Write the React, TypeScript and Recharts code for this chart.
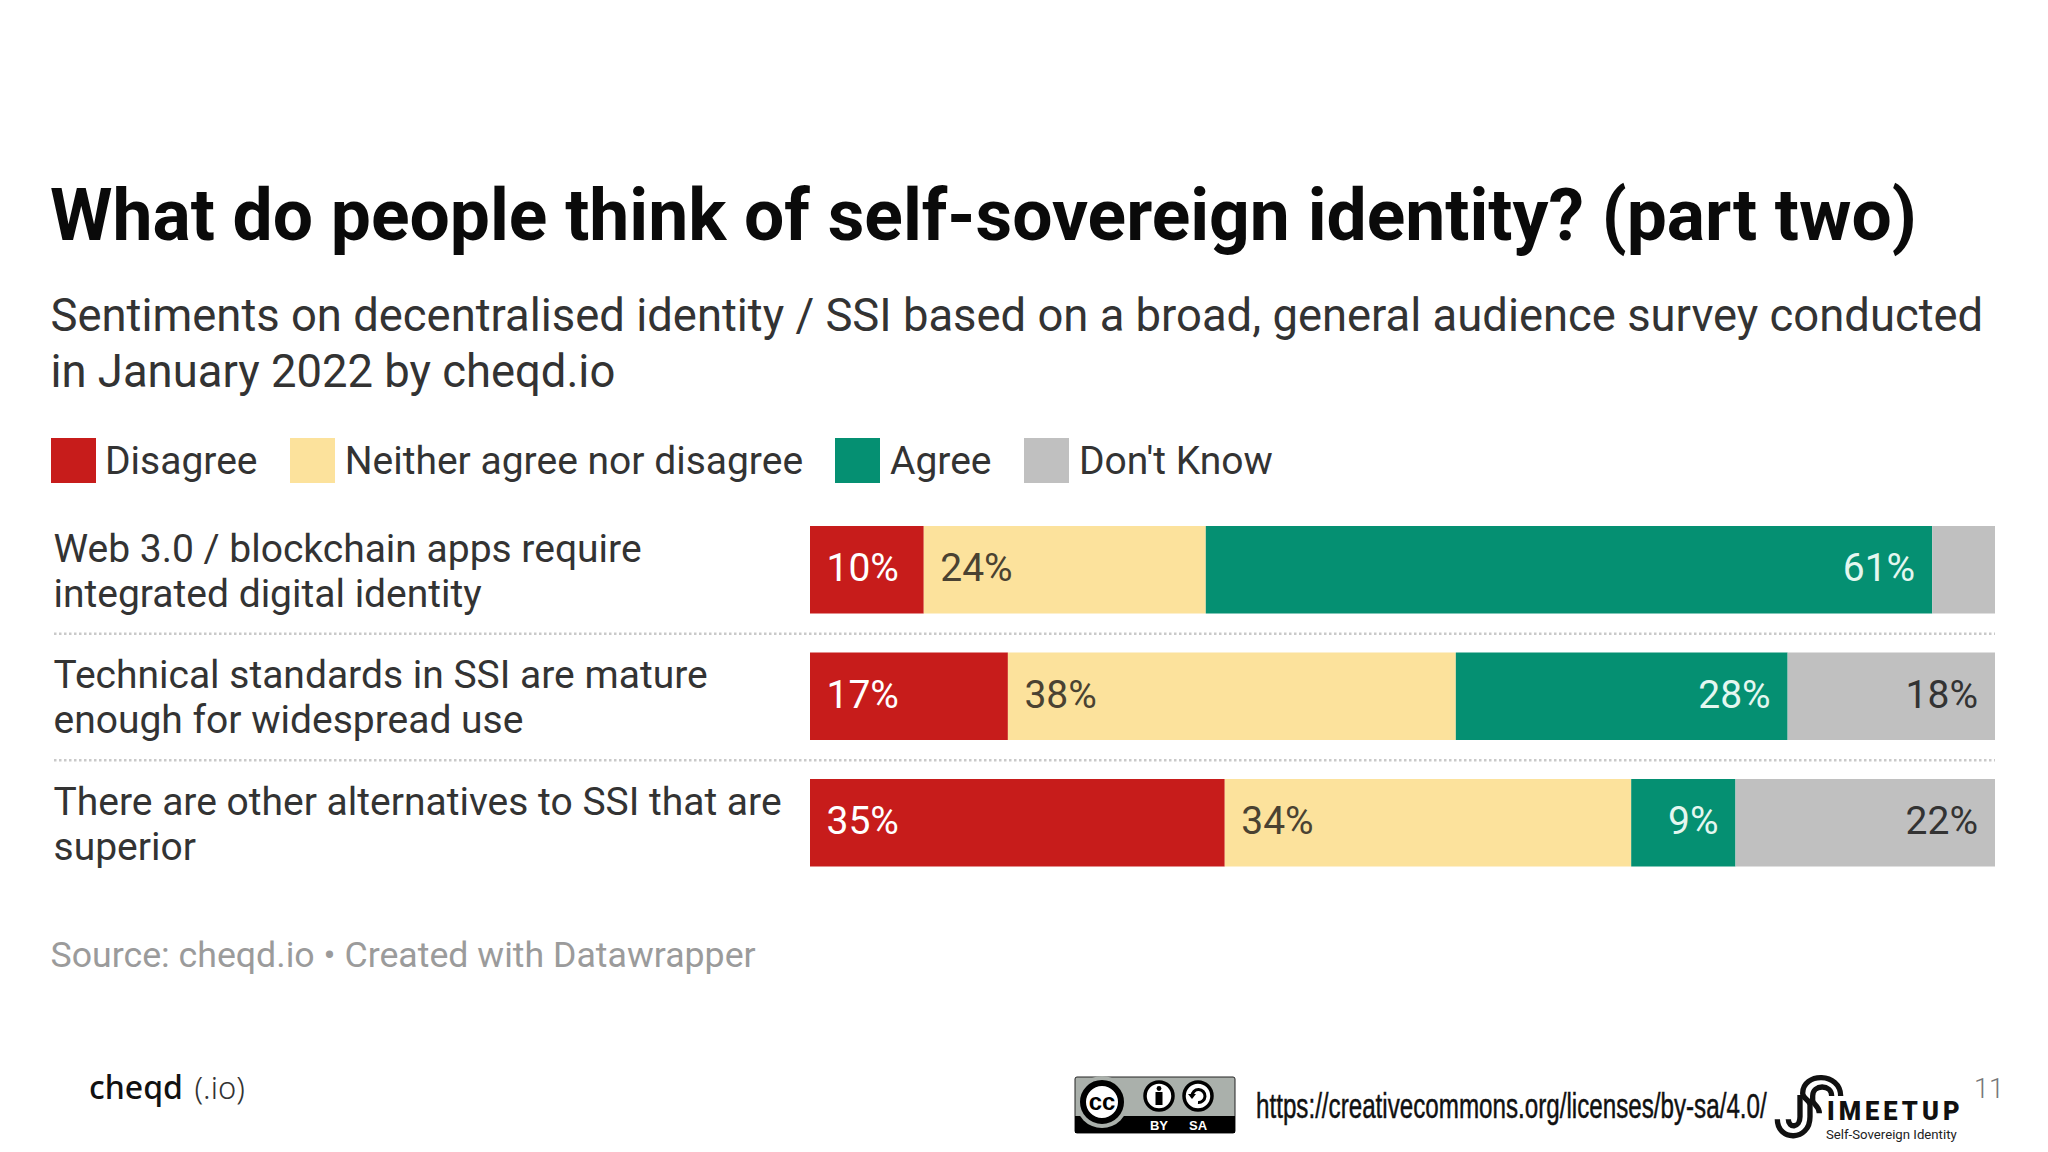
import React from "react";
import { BarChart, Bar, XAxis, YAxis, Legend, LabelList } from "recharts";

const titleText = "What do people think of self-sovereign identity? (part two)";
const subtitleLines = [
  "Sentiments on decentralised identity / SSI based on a broad, general audience survey conducted",
  "in January 2022 by cheqd.io",
];
const sourceText = "Source: cheqd.io • Created with Datawrapper";
const licenseUrl = "https://creativecommons.org/licenses/by-sa/4.0/";
const pageNumber = "11";

const categories = [
  "Web 3.0 / blockchain apps require\nintegrated digital identity",
  "Technical standards in SSI are mature\nenough for widespread use",
  "There are other alternatives to SSI that are\nsuperior",
];
const disagree = [9.6, 16.7, 35.0];
const neither = [23.8, 37.8, 34.3];
const agree = [61.3, 28.0, 8.8];
const dontKnow = [5.3, 17.5, 21.9];

const rows = categories.map((category, i) => ({
  category,
  disagree: disagree[i],
  neither: neither[i],
  agree: agree[i],
  dontKnow: dontKnow[i],
}));

const FONT = "Roboto, sans-serif";
const TEXT = "#333333";

const pct = (v: number) => (v < 6 ? "" : `${Math.round(v)}%`);

function RowTick(props: any) {
  const { y, payload, index } = props;
  const lines = String(payload.value).split("\n");
  return (
    <g>
      <text x={53.5} y={y - 7.5} fontFamily={FONT} fontSize={39} fill={TEXT}>
        {lines.map((line: string, i: number) => (
          <tspan key={i} x={53.5} dy={i === 0 ? 0 : 45}>
            {line}
          </tspan>
        ))}
      </text>
      {index < categories.length - 1 && (
        <line
          x1={54}
          x2={1995}
          y1={y + 64.5}
          y2={y + 64.5}
          stroke="#c9c9c9"
          strokeWidth={2.5}
          strokeDasharray="2.5 2.5"
        />
      )}
    </g>
  );
}

function LegendContent({ payload }: any) {
  const itemWidths = [239.7, 545.3, 189, 260];
  return (
    <div style={{ display: "flex", alignItems: "center", fontFamily: FONT, fontSize: 39, color: TEXT, height: 45 }}>
      {(payload || []).map((entry: any, i: number) => (
        <div key={i} style={{ display: "flex", alignItems: "center", width: itemWidths[i] }}>
          <span style={{ display: "inline-block", width: 45, height: 45, background: entry.color, marginRight: 9.5, flex: "none" }} />
          <span style={{ whiteSpace: "nowrap" }}>{entry.value}</span>
        </div>
      ))}
    </div>
  );
}

function Overlay() {
  const s = 1 / 3;
  return (
    <svg
      width={2048}
      height={1152}
      style={{ position: "absolute", left: 0, top: 0, pointerEvents: "none" }}
    >
      <text x={50} y={240} fontFamily={FONT} fontWeight={700} fontSize={71.4} fill="#0a0a0a">
        {titleText}
      </text>
      {subtitleLines.map((line, i) => (
        <text key={i} x={50.5} y={331 + i * 56} fontFamily={FONT} fontSize={45.4} fill={TEXT}>
          {line}
        </text>
      ))}
      <text x={50.5} y={967} fontFamily={FONT} fontSize={35.7} fill="#9b9b9b">
        {sourceText}
      </text>
      <text x={89} y={1099} fontFamily="'Noto Sans', sans-serif" fontWeight={500} fontSize={32} fill="#111">
        cheqd
      </text>
      <text x={194.5} y={1099} fontFamily="'Noto Sans', sans-serif" fontWeight={300} fontSize={31} fill="#333">
        (.io)
      </text>

      {/* CC BY-SA badge */}
      <rect x={1075} y={1077} width={160} height={56} rx={2} fill="#aab0ab" stroke="#222" strokeWidth={1} />
      <rect x={1075} y={1116} width={160} height={17} fill="#000" />
      <circle cx={1102} cy={1102} r={26} fill="#aab0ab" />
      <circle cx={1102} cy={1102} r={19} fill="#fff" stroke="#000" strokeWidth={6} />
      <text x={1102} y={1110} textAnchor="middle" fontFamily="'Liberation Sans', sans-serif" fontWeight={700} fontSize={24} fill="#000">
        cc
      </text>
      <circle cx={1159} cy={1096} r={14} fill="#fff" stroke="#000" strokeWidth={3.5} />
      <circle cx={1159} cy={1088.5} r={2.4} fill="#000" />
      <rect x={1155.5} y={1092} width={7} height={13} fill="#000" />
      <circle cx={1198} cy={1096} r={14} fill="#fff" stroke="#000" strokeWidth={3.5} />
      <path d="M1192 1096 A6.5 6.5 0 1 1 1198 1102.5" fill="none" stroke="#000" strokeWidth={3} />
      <path d="M1188 1094 L1196 1094 L1192 1099 Z" fill="#000" />
      <text x={1159} y={1130} textAnchor="middle" fontFamily="'Liberation Sans', sans-serif" fontWeight={700} fontSize={13} fill="#fff">
        BY
      </text>
      <text x={1198} y={1130} textAnchor="middle" fontFamily="'Liberation Sans', sans-serif" fontWeight={700} fontSize={13} fill="#fff">
        SA
      </text>

      <text
        transform="translate(1256 1118) scale(0.672 1)"
        fontFamily="'Liberation Sans', sans-serif"
        fontSize={36}
        fill="#111"
        stroke="#111"
        strokeWidth={0.5}
      >
        {licenseUrl}
      </text>

      {/* SSI Meetup logo */}
      <g transform={`translate(1760 1060) scale(${s})`} fill="none" stroke="#111" strokeWidth={16} strokeLinecap="butt">
        <path d="M52 178 C52 245 150 245 150 170 L150 135 C150 118 128 118 128 100 C128 36 242 36 242 108" />
        <path d="M85 178 C85 205 120 205 120 170 L120 105" />
        <path d="M215 108 C215 72 158 72 158 108 L158 120 C158 135 178 135 178 160" />
      </g>
      <text x={1827} y={1119.5} fontFamily={FONT} fontWeight={900} fontSize={25.5} fill="#111" letterSpacing={4}>
        IMEETUP
      </text>
      <text x={1826} y={1139} fontFamily={FONT} fontSize={13.2} fill="#222">
        Self-Sovereign Identity
      </text>
      <text x={1974} y={1098} fontFamily={FONT} fontWeight={300} fontSize={27} fill="#777">
        {pageNumber}
      </text>
    </svg>
  );
}

const labelStyle = { fontFamily: FONT, fontSize: 39 };

export default function App() {
  return (
    <div style={{ position: "absolute", left: 0, top: 0, width: 2048, height: 1152, background: "#fff", overflow: "hidden" }}>
      <BarChart
        width={2048}
        height={1152}
        data={rows}
        layout="vertical"
        margin={{ top: 506, right: 53, bottom: 266.5, left: 0 }}
      >
        <XAxis type="number" domain={[0, 100]} hide />
        <YAxis
          type="category"
          dataKey="category"
          width={810}
          axisLine={false}
          tickLine={false}
          interval={0}
          tick={<RowTick />}
        />
        <Legend
          verticalAlign="middle"
          align="center"
          itemSorter={null}
          content={<LegendContent />}
          wrapperStyle={{ position: "absolute", left: 50.5, top: 438, right: "auto", bottom: "auto", width: 1400, height: 45, margin: 0 }}
        />
        <Bar dataKey="disagree" name="Disagree" stackId="a" fill="#c71c1b" barSize={87.5} isAnimationActive={false}>
          <LabelList dataKey="disagree" position="insideLeft" offset={16.5} dy={-2.5} formatter={pct} fill="#ffffff" style={labelStyle} />
        </Bar>
        <Bar dataKey="neither" name="Neither agree nor disagree" stackId="a" fill="#fce29c" barSize={87.5} isAnimationActive={false}>
          <LabelList dataKey="neither" position="insideLeft" offset={16.5} dy={-2.5} formatter={pct} fill="#4a4232" style={labelStyle} />
        </Bar>
        <Bar dataKey="agree" name="Agree" stackId="a" fill="#059072" barSize={87.5} isAnimationActive={false}>
          <LabelList dataKey="agree" position="insideRight" offset={17} dy={-2.5} formatter={pct} fill="#e4f7f0" style={labelStyle} />
        </Bar>
        <Bar dataKey="dontKnow" name="Don't Know" stackId="a" fill="#c0c0c0" barSize={87.5} isAnimationActive={false}>
          <LabelList dataKey="dontKnow" position="insideRight" offset={17} dy={-2.5} formatter={pct} fill="#333333" style={labelStyle} />
        </Bar>
      </BarChart>
      <Overlay />
    </div>
  );
}
